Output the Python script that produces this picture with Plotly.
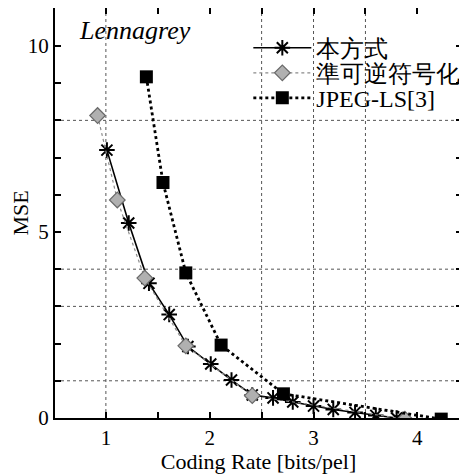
import plotly.graph_objects as go

# --- data ---
proposed_x = [1.01, 1.22, 1.415, 1.61, 1.79, 2.01, 2.21, 2.41, 2.61, 2.80, 3.00, 3.19, 3.40, 3.60, 3.80]
proposed_y = [7.20, 5.24, 3.62, 2.78, 1.92, 1.45, 1.02, 0.62, 0.54, 0.43, 0.32, 0.23, 0.15, 0.07, 0.00]

nearlossless_x = [0.92, 1.11, 1.375, 1.77, 2.41, 3.88]
nearlossless_y = [8.13, 5.86, 3.76, 1.94, 0.60, -0.03]

jpegls_x = [1.39, 1.55, 1.77, 2.11, 2.71, 4.23]
jpegls_y = [9.17, 6.33, 3.90, 1.96, 0.65, -0.03]

series_names = ["本方式", "準可逆符号化", "JPEG-LS[3]"]
grid_x = [1, 2.5, 3, 3.5]
grid_y = [1, 3, 4, 8]
x_ticks = [1, 2, 3, 4]
y_ticks = [0, 5, 10]

SERIF = "Liberation Serif"

fig = go.Figure()

fig.add_trace(go.Scatter(
    x=proposed_x, y=proposed_y, name=series_names[0], mode="lines+markers", legend="legend",
    line=dict(color="black", width=1.6),
    marker=dict(symbol="asterisk-open", size=13, color="black", line=dict(color="black", width=2)),
))
fig.add_trace(go.Scatter(
    x=nearlossless_x, y=nearlossless_y, name=series_names[1], mode="lines+markers", legend="legend2",
    line=dict(color="#8a8a8a", width=1.2, dash="dot"),
    marker=dict(symbol="diamond", size=12, color="#b0b0b0", line=dict(color="#6a6a6a", width=1.2)),
))
fig.add_trace(go.Scatter(
    x=jpegls_x, y=jpegls_y, name=series_names[2], mode="lines+markers", legend="legend3",
    line=dict(color="black", width=2.8, dash="dot"),
    marker=dict(symbol="square", size=13, color="black"),
))

shapes = []
for gx in grid_x:
    shapes.append(dict(type="line", xref="x", yref="paper", x0=gx, x1=gx, y0=0, y1=1,
                       line=dict(color="#555", width=1, dash="dot"), layer="below"))
for gy in grid_y:
    shapes.append(dict(type="line", xref="paper", yref="y", x0=0, x1=1, y0=gy, y1=gy,
                       line=dict(color="#555", width=1, dash="dot"), layer="below"))

def leg(y):
    return dict(x=0.475, y=y, xanchor="left", yanchor="middle",
                bgcolor="rgba(0,0,0,0)", font=dict(family=SERIF, size=24, color="black"),
                itemwidth=58, borderwidth=0)

# page has an 8px body margin, so the figure is shrunk by 8px and margins compensate
fig.update_layout(
    width=459, height=466,
    margin=dict(l=47, r=5, t=0, b=56, autoexpand=False),
    paper_bgcolor="white", plot_bgcolor="white",
    shapes=shapes,
    showlegend=True,
    legend=leg(0.902), legend2=leg(0.841), legend3=leg(0.780),
    annotations=[dict(text="<i>Lennagrey</i>", xref="paper", yref="paper", x=0.054, y=0.946,
                      xanchor="left", yanchor="middle", showarrow=False,
                      font=dict(family=SERIF, size=26, color="black"))],
)

fig.update_xaxes(
    range=[0.51, 4.43], tickvals=x_ticks, ticks="inside", ticklen=6, tickwidth=1.5,
    tickcolor="black", showline=True, linecolor="black", linewidth=2, mirror="ticks",
    showgrid=False, zeroline=False, automargin=False,
    minor=dict(dtick=0.5, tick0=0, ticks="inside", ticklen=6, tickcolor="black", tickwidth=1.5),
    tickfont=dict(family=SERIF, size=21, color="black"),
    title=dict(text="Coding Rate [bits/pel]", font=dict(family=SERIF, size=22, color="black"), standoff=2),
)
fig.update_yaxes(
    range=[0, 11.02], tickvals=y_ticks, ticks="inside", ticklen=6, tickwidth=1.5,
    tickcolor="black", showline=True, linecolor="black", linewidth=2, mirror="ticks",
    showgrid=False, zeroline=False, automargin=False,
    minor=dict(dtick=1, tick0=0, ticks="inside", ticklen=6, tickcolor="black", tickwidth=1.5),
    tickfont=dict(family=SERIF, size=21, color="black"),
    title=dict(text="MSE", font=dict(family=SERIF, size=22, color="black"), standoff=2),
)

fig.write_html("out.html")
